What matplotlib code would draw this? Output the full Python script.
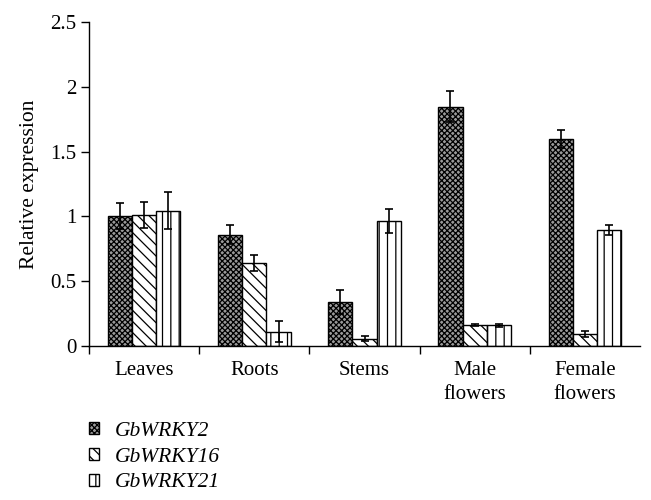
import numpy as np
import matplotlib
matplotlib.use("Agg")
import matplotlib.pyplot as plt
from matplotlib.patches import Rectangle

plt.rcParams['font.family'] = ['Liberation Serif', 'DejaVu Serif']
plt.rcParams['hatch.linewidth'] = 0.9

# 数据
tissues = ['Leaves', 'Roots', 'Stems', 'Male\nflowers', 'Female\nflowers']
genes = ['GbWRKY2', 'GbWRKY16', 'GbWRKY21']
wrky2 = [1.00, 0.86, 0.34, 1.845, 1.60]
wrky2_err = [0.10, 0.07, 0.09, 0.12, 0.07]
wrky16 = [1.01, 0.64, 0.055, 0.165, 0.093]
wrky16_err = [0.10, 0.06, 0.02, 0.008, 0.025]
wrky21 = [1.045, 0.11, 0.965, 0.16, 0.895]
wrky21_err = [0.14, 0.08, 0.09, 0.01, 0.04]

values = [wrky2, wrky16, wrky21]
errors = [wrky2_err, wrky16_err, wrky21_err]
hatches = ['xxxxxx', '\\\\\\', '||']
faces = ['#9a9a9a', 'white', 'white']

fig = plt.figure(figsize=(6.51, 5.0), dpi=100)
ax = fig.add_axes([89 / 651, 1 - 346 / 500, 551 / 651, 324 / 500])

x = np.arange(len(tissues)) + 0.5
w = 0.22
for i in range(3):
    ax.bar(x + (i - 1) * w, values[i], w, yerr=errors[i], color=faces[i],
           edgecolor='black', linewidth=1.0, hatch=hatches[i], label=genes[i],
           error_kw=dict(ecolor='black', elinewidth=1.2, capsize=3, capthick=1.2))

ax.set_xlim(0, 5)
ax.set_ylim(0, 2.5)
ax.set_yticks([0, 0.5, 1, 1.5, 2, 2.5])
ax.set_yticklabels(['0', '0.5', '1', '1.5', '2', '2.5'], fontsize=15)
ax.set_xticks(x)
ax.set_xticklabels(tissues, fontsize=15, linespacing=1.35)
ax.set_xticks(np.arange(5), minor=True)
ax.tick_params(axis='x', which='major', length=0, pad=11)
ax.tick_params(axis='x', which='minor', length=6, width=1.0, direction='out')
ax.tick_params(axis='y', length=6, width=1.0, direction='out', pad=3)
ax.set_ylabel('Relative expression', fontsize=15.5, labelpad=8)

for s in ['top', 'right']:
    ax.spines[s].set_visible(False)
for s in ['left', 'bottom']:
    ax.spines[s].set_linewidth(1.0)

leg = fig.legend(loc='upper left', bbox_to_anchor=(80 / 651, 1 - 413 / 500),
                 frameon=False, prop={'style': 'italic', 'size': 15.5},
                 handlelength=0.5, handleheight=0.5, handletextpad=0.7,
                 labelspacing=0.32, borderaxespad=0)

# 原图底部被裁掉
fig.patches.append(Rectangle((0, 0), 1, 11 / 500, transform=fig.transFigure,
                             facecolor='white', edgecolor='none', zorder=10))

plt.savefig('out.png', dpi=100)
